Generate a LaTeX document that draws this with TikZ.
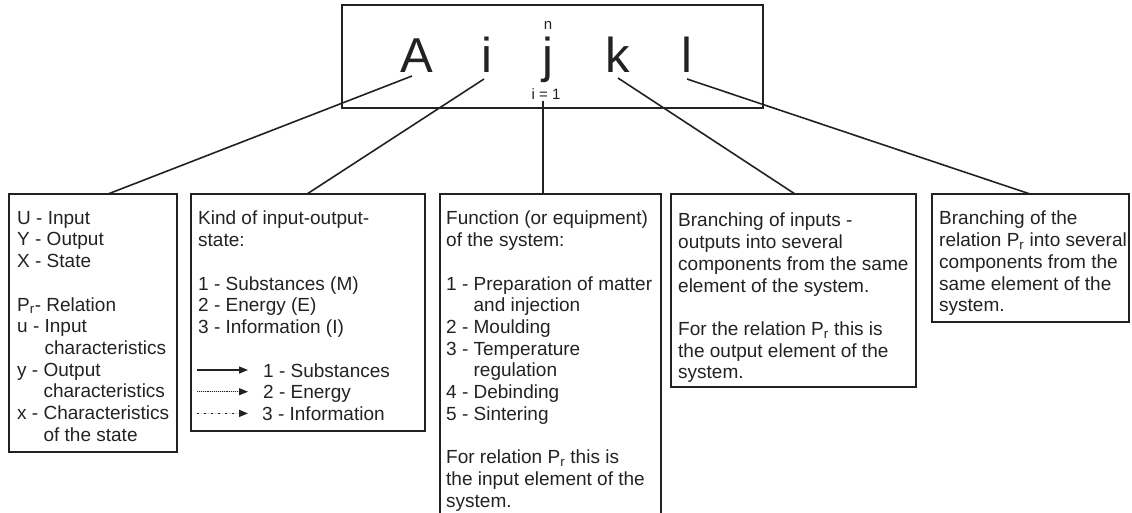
\documentclass[tikz,border=0pt]{standalone}
\usepackage{fontspec}
\setmainfont{Liberation Sans}
\usetikzlibrary{arrows.meta}
\definecolor{ink}{HTML}{222222}
\begin{document}
\begin{tikzpicture}[x=1pt,y=-1pt,
  boxst/.style={draw=ink, line width=1.6pt, anchor=north west, inner sep=0, outer sep=0},
  txt/.style={anchor=north west, inner sep=0, align=left, font=\fontsize{19}{21.7}\selectfont, text=ink},
  leg/.style={anchor=base west, inner sep=0, font=\fontsize{19}{21.7}\selectfont, text=ink},
  letter/.style={anchor=base, inner sep=0, font=\fontsize{49}{50}\selectfont, text=ink},
  small/.style={inner sep=0, font=\fontsize{15}{16}\selectfont, text=ink},
  conn/.style={draw=ink, line width=1.6pt},
  tipst/.style={-{Triangle[length=9pt,width=7pt]}, draw=ink, fill=ink}]
\useasboundingbox (0,0) rectangle (1132,512);

% top box
\node[boxst, minimum width=421, minimum height=103] (top) at (342,5) {};
\node[letter] (A) at (417,72) {A};
\node[letter] (i) at (487,72) {i};
\node[letter] (j) at (548,72) {j};
\node[letter] (k) at (618,72) {k};
\node[letter] (l) at (687,72) {l};
\node[small] (n) at (548,25) {n};
\node[small] (eq) at (546,94) {i = 1};

% boxes
\node[boxst, minimum width=168, minimum height=258] (b1) at (9,194) {};
\node[boxst, minimum width=234, minimum height=237] (b2) at (191,194) {};
\node[boxst, minimum width=221, minimum height=330] (b3) at (440,194) {};
\node[boxst, minimum width=245, minimum height=193] (b4) at (671,194) {};
\node[boxst, minimum width=197, minimum height=128] (b5) at (932,194) {};

% connectors
\draw[conn] ([xshift=-5pt,yshift=-4pt]A.base) -- ([xshift=99pt]b1.north west);
\draw[conn] ([xshift=-3pt,yshift=-7pt]i.base) -- ([xshift=116pt]b2.north west);
\draw[conn] ([xshift=-3pt,yshift=-1pt]eq.south) -- ([xshift=-3pt,yshift=-1pt]eq.south |- b3.north);
\draw[conn] ([yshift=-6pt]k.base) -- ([xshift=124pt]b4.north west);
\draw[conn] ([yshift=-7pt]l.base) -- ([xshift=98pt]b5.north west);

% texts
\node[txt] (t1) at (17,211) {U - Input\\ Y - Output\\ X - State\\[21.7pt]
P\textsubscript{r}- Relation\\ u - Input\\ \phantom{u - }characteristics\\
y - Output\\ \phantom{y - }characteristics\\ x - Characteristics\\ \phantom{x - }of the state};

\node[txt] (t2) at (198,211) {Kind of input-output-\\ state:\\[21.7pt]
1 - Substances (M)\\ 2 - Energy (E)\\ 3 - Information (I)};

\node[leg] (l1) at (263,377) {1 - Substances};
\node[leg] (l2) at (263,398.7) {2 - Energy};
\node[leg] (l3) at (262,420.4) {3 - Information};
\draw[tipst, line width=1.4pt] ([xshift=-66pt,yshift=7pt]l1.base west) -- ([xshift=-15pt,yshift=7pt]l1.base west);
\draw[tipst, line width=1.1pt, dash pattern=on 1pt off 0.9pt] ([xshift=-66pt,yshift=7pt]l2.base west) -- ([xshift=-15pt,yshift=7pt]l2.base west);
\draw[tipst, line width=1.5pt, dash pattern=on 1.5pt off 5.5pt] ([xshift=-65pt,yshift=7pt]l3.base west) -- ([xshift=-14pt,yshift=7pt]l3.base west);

\node[txt] (t3) at (446,211) {Function (or equipment)\\ of the system:\\[21.7pt]
1 - Preparation of matter\\ \phantom{1 - }and injection\\ 2 - Moulding\\
3 - Temperature\\ \phantom{3 - }regulation\\ 4 - Debinding\\ 5 - Sintering\\[21.7pt]
For relation P\textsubscript{r} this is\\ the input element of the\\ system.};

\node[txt] (t4) at (678,213) {Branching of inputs -\\ outputs into several\\
components from the same\\ element of the system.\\[21.7pt]
For the relation P\textsubscript{r} this is\\ the output element of the\\ system.};

\node[txt] (t5) at (939,211) {Branching of the\\ relation P\textsubscript{r} into several\\
components from the\\ same element of the\\ system.};
\end{tikzpicture}
\end{document}
